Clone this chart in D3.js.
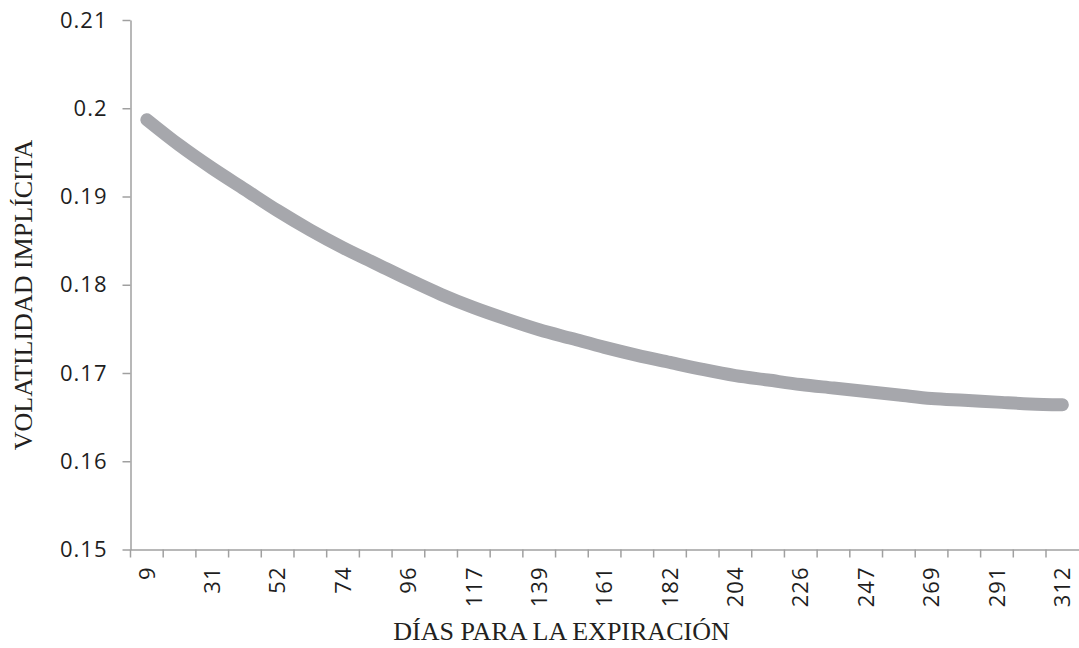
<!DOCTYPE html>
<html>
<head>
<meta charset="utf-8">
<script src="https://cdn.jsdelivr.net/npm/d3@7"></script>
<style>
  html, body { margin: 0; padding: 0; background: #fff; }
  svg { display: block; }
  .tick text { font-family: "Open Sans", sans-serif; fill: #1e1e1e; }
  .title { font-family: "Liberation Serif", "Times New Roman", serif; fill: #231f20; }
</style>
</head>
<body>
<svg id="chart" width="1079" height="648"></svg>
<script>
// ---- data ----
const days = [9, 20, 31, 42, 52, 63, 74, 85, 96, 106, 117, 128, 139, 150, 161, 171,
              182, 193, 204, 215, 226, 236, 247, 258, 269, 280, 291, 301, 312];
const impliedVol = [0.1987, 0.1958, 0.1932, 0.1908, 0.1884, 0.1862, 0.1842, 0.1824,
                    0.1806, 0.1789, 0.1774, 0.1761, 0.1749, 0.1739, 0.1729, 0.1720,
                    0.1712, 0.1704, 0.1697, 0.1692, 0.1687, 0.1683, 0.1679, 0.1675,
                    0.1671, 0.1669, 0.1667, 0.1665, 0.1664];
const yTickValues = [0.15, 0.16, 0.17, 0.18, 0.19, 0.20, 0.21];
const yTickLabels = ["0.15", "0.16", "0.17", "0.18", "0.19", "0.2", "0.21"];
const xTitle = "DÍAS PARA LA EXPIRACIÓN";
const yTitle = "VOLATILIDAD IMPLÍCITA";

// ---- layout ----
const svg = d3.select("#chart");
const mLeft = 130.5, mRight = 1078.7, mTop = 20, mBottom = 549.5;
const axisColor = "#a0a0a0";

const x = d3.scaleBand().domain(days).range([mLeft, mRight]).padding(0);
const y = d3.scaleLinear().domain([0.15, 0.21]).range([mBottom, mTop]);

// y axis
const yAxis = d3.axisLeft(y)
  .tickValues(yTickValues)
  .tickFormat((d, i) => yTickLabels[i])
  .tickSize(8)
  .tickPadding(15)
  .tickSizeOuter(0);
const gy = svg.append("g").attr("transform", `translate(${mLeft},0)`).call(yAxis);
gy.selectAll("text").style("font-size", "22px").style("letter-spacing", "1px");
gy.selectAll("line, path").attr("stroke", axisColor).attr("stroke-width", 1.5);

// x axis (labels every other category, ticks at band boundaries)
const xAxis = d3.axisBottom(x)
  .tickFormat((d, i) => (i % 2 === 0 ? String(d) : ""))
  .tickSize(0)
  .tickPadding(0)
  .tickSizeOuter(0);
const gx = svg.append("g").attr("transform", `translate(0,${mBottom})`).call(xAxis);
gx.select("path.domain").attr("stroke", axisColor).attr("stroke-width", 1.5);
gx.selectAll("text")
  .style("font-size", "22px")
  .style("letter-spacing", "1px")
  .attr("text-anchor", "end")
  .attr("dy", "0.35em")
  .attr("transform", "translate(0,17) rotate(-90)")
  .attr("x", 0).attr("y", 0);

// tick marks at category boundaries
gx.selectAll("line.bound")
  .data(days)
  .enter().append("line")
  .attr("class", "bound")
  .attr("x1", d => x(d)).attr("x2", d => x(d))
  .attr("y1", 0).attr("y2", 8)
  .attr("stroke", axisColor).attr("stroke-width", 1.5);

// line
const line = d3.line()
  .x((d, i) => x(days[i]) + x.bandwidth() / 2)
  .y(d => y(d))
  .curve(d3.curveMonotoneX);

svg.append("path")
  .datum(impliedVol)
  .attr("d", line)
  .attr("fill", "none")
  .attr("stroke", "#a6a7ac")
  .attr("stroke-width", 13)
  .attr("stroke-linecap", "round")
  .attr("stroke-linejoin", "round");

// titles
svg.append("text")
  .attr("class", "title")
  .attr("x", 561.5).attr("y", 640)
  .attr("text-anchor", "middle")
  .style("font-size", "26px")
  .text(xTitle);

svg.append("text")
  .attr("class", "title")
  .attr("transform", `translate(32,295) rotate(-90)`)
  .attr("text-anchor", "middle")
  .style("font-size", "26px")
  .text(yTitle);
</script>
</body>
</html>
